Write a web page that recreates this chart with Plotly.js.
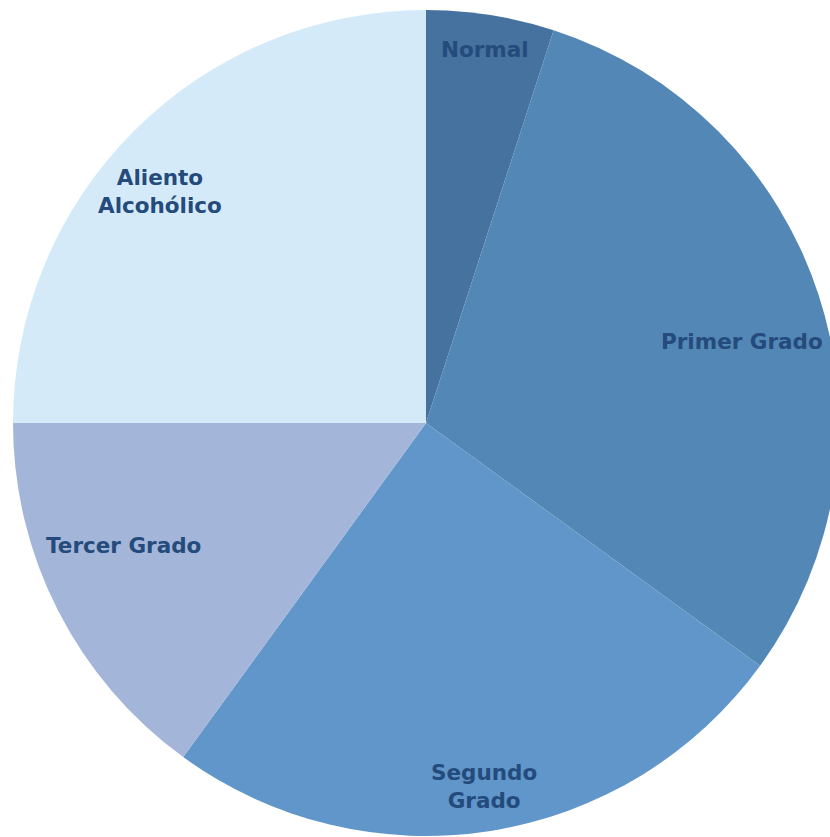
<!DOCTYPE html>
<html>
<head>
<meta charset="utf-8">
<script src="https://cdn.plot.ly/plotly-3.0.1.min.js"></script>
<style>
html,body{margin:0;padding:0;overflow:hidden;background:#fff;width:830px;height:837px;}
#chart{width:860px;height:846px;}
</style>
</head>
<body>
<div id="chart"></div>
<script>
// Data
const categories = ["Normal", "Primer Grado", "Segundo Grado", "Tercer Grado", "Aliento Alcohólico"];
const displayLabels = ["Normal", "Primer Grado", "Segundo<br>Grado", "Tercer Grado", "Aliento<br>Alcohólico"];
const values = [5, 30, 25, 15, 25];
const colors = ["#46729F", "#5387B6", "#6096C9", "#A3B6D9", "#D4EAF9"];

// Layout geometry (pixels)
const W = 860, H = 846;
const cx = 426, cy = 423, R = 413;
const labelRadiusFrac = [0.915, 0.79, 0.89, 0.79, 0.855];
const labelAngleShift = [0, 3.5, 0, 5, -4];

const total = values.reduce((a, b) => a + b, 0);
let cum = 0;
const annotations = values.map((v, i) => {
  const mid = (cum + v / 2) / total * 360 + labelAngleShift[i];
  cum += v;
  const th = mid * Math.PI / 180;
  const px = cx + labelRadiusFrac[i] * R * Math.sin(th);
  const py = cy - labelRadiusFrac[i] * R * Math.cos(th);
  return {
    x: px / W, y: 1 - py / H, xref: "paper", yref: "paper",
    text: displayLabels[i], showarrow: false,
    xanchor: "center", yanchor: "middle",
    font: {family: "'DejaVu Sans', sans-serif", size: 21.5, color: "#244B7B", weight: "bold"}
  };
});

const trace = {
  type: "pie",
  labels: categories,
  values: values,
  sort: false,
  direction: "clockwise",
  rotation: 0,
  textinfo: "none",
  hoverinfo: "none",
  marker: {colors: colors, line: {width: 0}},
  domain: {x: [(cx - R) / W, (cx + R) / W], y: [(H - cy - R) / H, (H - cy + R) / H]},
  showlegend: false
};

Plotly.newPlot("chart", [trace], {
  width: W, height: H,
  margin: {l: 0, r: 0, t: 0, b: 0, pad: 0},
  paper_bgcolor: "#fff",
  showlegend: false,
  annotations: annotations
}, {staticPlot: true, displayModeBar: false});
</script>
</body>
</html>
